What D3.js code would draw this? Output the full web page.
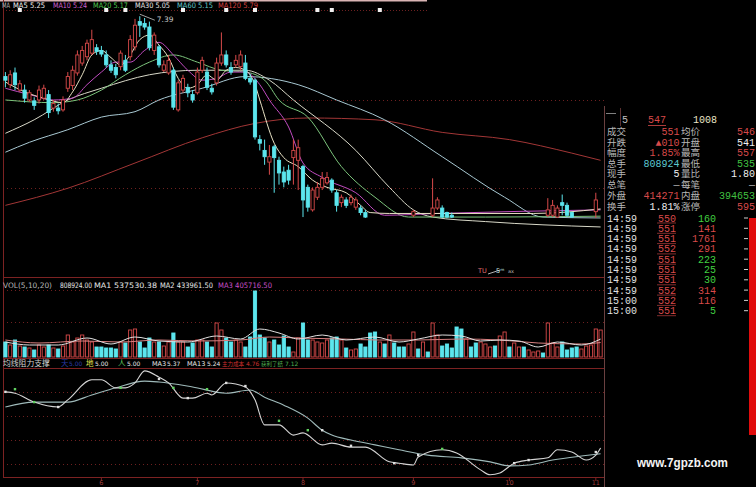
<!DOCTYPE html>
<html><head><meta charset="utf-8">
<script src="https://cdn.jsdelivr.net/npm/d3@7"></script>
<style>html,body{margin:0;padding:0;background:#000;overflow:hidden}svg{display:block}</style>
</head><body>
<svg id="c" width="756" height="487"></svg>
<script>
// ---------------- DATA ----------------
const N_BARS = 125;
// [barIndex, open, high, low, close]  (hidden bars are simply absent)
const candles = [
[0,6.72,6.77,6.60,6.68],[1,6.63,6.79,6.59,6.74],[2,6.76,6.82,6.57,6.63],[3,6.57,6.68,6.55,6.64],[4,6.57,6.63,6.43,6.48],
[5,6.46,6.57,6.44,6.54],[6,6.45,6.49,6.35,6.40],[7,6.46,6.62,6.42,6.57],[8,6.48,6.63,6.46,6.59],[9,6.52,6.57,6.26,6.32],
[10,6.37,6.46,6.33,6.42],[11,6.37,6.42,6.30,6.34],[12,6.35,6.50,6.33,6.46],[13,6.59,6.77,6.55,6.72],[14,6.62,6.84,6.57,6.79],
[15,6.76,7.01,6.73,6.96],[16,6.87,7.06,6.84,7.01],[17,6.94,7.13,6.90,7.09],[18,6.98,7.24,6.96,7.13],[19,7.04,7.08,6.96,7.00],
[20,7.01,7.06,6.94,6.97],[21,6.96,7.01,6.82,6.85],[22,6.85,6.90,6.76,6.79],[23,6.82,6.86,6.70,6.74],[24,6.83,7.01,6.79,6.98],
[25,6.90,6.96,6.77,6.79],[26,6.94,7.18,6.90,7.13],[27,7.05,7.36,7.01,7.29],[28,7.33,7.39,7.16,7.29],[29,7.31,7.37,7.24,7.27],
[30,7.27,7.33,7.01,7.04],[31,7.01,7.21,6.96,7.18],[32,7.05,7.07,6.82,6.85],[33,6.79,6.90,6.77,6.85],[34,6.76,6.96,6.74,6.90],
[35,6.79,6.82,6.35,6.38],[36,6.35,6.68,6.33,6.65],[37,6.57,6.74,6.54,6.70],[38,6.60,6.64,6.49,6.54],[39,6.52,6.57,6.43,6.46],
[40,6.54,6.82,6.52,6.77],[41,6.79,6.94,6.76,6.90],[42,6.77,6.82,6.57,6.60],[43,6.59,6.64,6.52,6.55],[44,6.65,6.93,6.62,6.87],
[45,6.87,7.21,6.84,6.96],[46,6.96,7.01,6.82,6.85],[47,6.82,6.88,6.74,6.77],[48,6.85,6.96,6.82,6.90],[49,6.83,7.01,6.79,6.96],
[50,6.87,6.96,6.68,6.70],[51,6.70,6.75,6.63,6.66],[52,6.68,6.70,6.02,6.05],[53,6.02,6.07,5.90,5.98],[54,5.90,6.02,5.74,5.83],
[55,5.77,5.96,5.63,5.83],[56,5.94,5.96,5.43,5.82],[57,5.79,5.83,5.52,5.65],[58,5.66,5.72,5.49,5.55],[59,5.68,5.74,5.52,5.57],
[60,5.82,6.02,5.52,5.90],[61,5.79,6.02,5.46,5.93],[62,5.72,5.74,5.16,5.35],[63,5.49,5.52,5.22,5.27],[64,5.24,5.49,5.22,5.46],
[65,5.38,5.55,5.35,5.49],[66,5.49,5.66,5.46,5.59],[67,5.54,5.66,5.52,5.60],[68,5.57,5.59,5.43,5.46],[69,5.43,5.46,5.22,5.29],
[70,5.32,5.41,5.27,5.38],[71,5.35,5.38,5.26,5.29],[72,5.32,5.41,5.29,5.38],[73,5.27,5.38,5.24,5.35],[74,5.26,5.29,5.18,5.21],
[75,5.21,5.24,5.15,5.16],
[85,5.18,5.24,5.16,5.22],
[89,5.18,5.59,5.16,5.26],[90,5.26,5.38,5.24,5.35],[91,5.26,5.29,5.15,5.16],[92,5.21,5.22,5.15,5.16],[93,5.18,5.21,5.15,5.16],
[113,5.18,5.37,5.16,5.24],[114,5.18,5.35,5.16,5.29],[115,5.16,5.29,5.15,5.26],[116,5.32,5.41,5.18,5.29],[117,5.29,5.32,5.16,5.18],
[118,5.21,5.22,5.15,5.16],
[123,5.22,5.43,5.15,5.35]
];

// moving averages of price: [barIndex, value]
const ma5 = [[0,6.66],[4,6.55],[8,6.48],[12,6.43],[14,6.55],[16,6.74],[18,6.96],[20,7.01],[22,6.93],[24,6.85],[26,6.96],[28,7.13],[30,7.18],[32,7.07],[34,6.93],[36,6.70],[38,6.59],[40,6.63],[42,6.74],[44,6.68],[46,6.79],[48,6.82],[50,6.79],[52,6.63],[53,6.46],[56,5.98],[58,5.82],[61,5.72],[64,5.57],[67,5.49],[71,5.43],[74,5.29],[76,5.21],[80,5.20],[110,5.20],[124,5.25]];
const ma10 = [[0,6.59],[5,6.52],[10,6.46],[14,6.48],[17,6.63],[20,6.77],[23,6.88],[26,6.88],[29,7.01],[32,7.10],[35,6.96],[38,6.79],[41,6.68],[44,6.70],[47,6.77],[50,6.77],[53,6.63],[55,6.46],[59,6.16],[62,5.76],[66,5.60],[73,5.43],[79,5.18],[90,5.20],[124,5.24]];
const ma20 = [[0,6.46],[10,6.43],[15,6.46],[20,6.57],[25,6.74],[30,6.88],[35,6.96],[40,6.88],[45,6.79],[50,6.77],[54,6.68],[57,6.46],[63,6.27],[70,5.72],[77,5.38],[84,5.16],[100,5.16],[124,5.17]];
const ma30 = [[0,6.09],[6,6.24],[13,6.46],[20,6.59],[30,6.74],[40,6.79],[50,6.79],[55,6.68],[60,6.46],[73,5.90],[80,5.49],[85,5.24],[89,5.16],[100,5.11],[124,5.05]];
const ma60 = [[0,5.88],[5,5.99],[13,6.13],[20,6.27],[27,6.33],[32,6.46],[41,6.59],[50,6.72],[61,6.63],[69,6.46],[79,6.24],[91,5.83],[104,5.38],[112,5.16],[124,5.15]];
const ma120 = [[0,5.29],[13,5.48],[27,5.76],[41,6.04],[52,6.20],[63,6.26],[77,6.24],[91,6.10],[105,6.02],[118,5.87],[124,5.79]];

// volume per bar and its direction (u = up/red, d = down/cyan)
const volumes = [
450000,360000,510000,330000,300000,270000,210000,360000,300000,360000,
270000,240000,330000,660000,450000,570000,660000,510000,450000,300000,
300000,270000,270000,240000,450000,420000,810000,840000,450000,270000,
570000,450000,450000,330000,450000,720000,450000,450000,300000,420000,
510000,510000,450000,300000,1020000,810000,570000,450000,510000,450000,
300000,600000,1980000,660000,570000,450000,510000,360000,630000,300000,
150000,570000,1020000,510000,510000,450000,420000,510000,570000,600000,
510000,270000,210000,240000,390000,300000,720000,750000,450000,390000,
660000,420000,300000,300000,390000,750000,240000,450000,150000,1020000,
660000,330000,390000,270000,900000,840000,540000,300000,420000,450000,
390000,300000,330000,630000,750000,300000,420000,300000,300000,210000,
150000,180000,120000,1020000,420000,300000,450000,210000,270000,300000,
240000,330000,360000,840000,808924];
const volDir = ("dudududuud"+"uduuuuuuud"+"dddduduudd"+"duduuduudd"+"uudduudduu"+
                "dddddudddd"+"uudduuuudd"+"uduuddddud"+"uddduududu"+"uddddduddu"+
                "uuduuduudu"+"uuduuudddd"+"uuuuu").split("");
const volMA1 = [[0,450000],[5,360000],[11,360000],[17,570000],[22,390000],[27,600000],[32,480000],[38,450000],[44,630000],[49,540000],[53,840000],[57,720000],[61,540000],[66,660000],[71,510000],[77,600000],[82,450000],[86,540000],[91,660000],[95,630000],[99,480000],[103,510000],[107,480000],[111,300000],[115,450000],[120,360000],[124,537530.38]];
const volMA2 = [[0,510000],[7,420000],[16,480000],[24,450000],[32,510000],[40,480000],[49,510000],[55,600000],[61,570000],[70,540000],[78,510000],[86,510000],[95,540000],[103,510000],[111,420000],[120,390000],[124,433961.50]];
const volMA3Last = 405716.50;

// indicator (均线阻力支撑): MA3 and MA13 lines, signal dots
const indMA3 = [[0,6.63],[2,6.60],[6,6.40],[11,6.29],[13,6.45],[18,6.90],[20,6.90],[23,6.72],[25,6.72],[27,6.83],[29,7.10],[32,6.96],[34,6.83],[37,6.49],[39,6.49],[42,6.60],[43,6.56],[46,6.83],[50,6.74],[52,6.45],[54,5.89],[57,5.89],[60,5.66],[62,5.71],[66,5.44],[68,5.48],[72,5.39],[75,5.39],[80,5.06],[82,5.03],[85,4.99],[86,5.17],[91,5.33],[94,5.26],[99,4.88],[101,4.77],[103,4.81],[106,5.03],[109,5.10],[113,5.15],[115,5.33],[118,5.28],[121,5.10],[123,5.21],[124,5.37]];
const indMA13 = [[0,6.29],[6,6.40],[13,6.40],[18,6.56],[23,6.72],[29,6.87],[32,6.85],[39,6.74],[46,6.60],[51,6.67],[54,6.51],[58,6.33],[63,6.04],[66,5.77],[68,5.66],[72,5.55],[77,5.44],[82,5.33],[88,5.21],[95,5.15],[101,5.06],[105,4.97],[109,4.99],[114,5.10],[120,5.19],[124,5.24]];
const dotsGreen = [[2,6.69],[6,6.40],[24,6.72],[35,6.72],[42,6.69],[57,5.98],[63,5.77],[91,5.35]];
const dotsWhite = [[0,6.63],[11,6.29],[32,6.92],[38,6.49],[46,6.83],[50,6.76],[66,5.77],[72,5.42],[81,5.03],[86,5.21],[106,5.03],[109,5.10],[123,5.28]];
const indLabels = ["均线阻力支撑","天","地","人","MA3","MA13","主力成本","获利了结"];
const indValues = ["","5.00","5.00","5.00","5.37","5.24","4.76","7.12"];

const monthTicks = [[20,"6"],[40,"7"],[62,"8"],[85,"9"],[105,"10"],[123,"11"]];
const infoMarks = [3,21,25,37,46,52,65,68,78];

// quote panel
const quoteTop = ["5","547","1008"];
const quoteRows = [
 ["成交","551","均价","546"],["升跌","▲010","开盘","541"],["幅度","1.85%","最高","557"],
 ["总手","808924","最低","535"],["现手","5","量比","1.80"],["总笔","—","每笔","—"],
 ["外盘","414271","内盘","394653"],["换手","1.81%","涨停","595"]];
const tickTimes = ["14:59","14:59","14:59","14:59","14:59","14:59","14:59","14:59","15:00","15:00"];
const tickPrices = ["550","551","551","552","551","551","551","552","552","551"];
const tickVols = [160,141,1761,291,223,25,30,314,116,5];
const tickSide = ["s","b","b","b","s","s","s","b","b","s"];

// ---------------- LAYOUT / STYLE ----------------
const RED = "#d84a4a", CYAN = "#5ce6ee", FRAME = "#7c2222", GRID = "#6e2020";
const svg = d3.select("#c");
svg.append("rect").attr("width",756).attr("height",487).attr("fill","#000");

const x = d3.scaleBand().domain(d3.range(N_BARS)).range([3,603]);
const cx = i => x(i) + x.bandwidth()/2;
const yP = d3.scaleLinear().domain([4.55,7.57]).range([272,0]);
const yV = d3.scaleLinear().domain([0,2010000]).range([357,290]);
const yI = d3.scaleLinear().domain([4.72,7.12]).range([477,370]);

// ---- frame & grid
const hline = (y,x1,x2,col,dash,w) => svg.append("line").attr("x1",x1).attr("x2",x2).attr("y1",y).attr("y2",y)
  .attr("stroke",col).attr("stroke-width",w||1).attr("stroke-dasharray",dash||null);
svg.append("line").attr("x1",0).attr("x2",427).attr("y1",0.8).attr("y2",0.8).attr("stroke","#d8b4b4").attr("stroke-width",1.6);
hline(10.5,3,427,GRID,"1,2");
hline(100.5,3,604,GRID,"1,3");
hline(188.5,3,604,GRID,"1,3");
hline(277.5,3,604,FRAME);
hline(290.5,3,604,GRID,"1,3");
hline(322.5,3,604,GRID,"1,3");
hline(358.5,3,604,FRAME);
hline(368.5,3,604,FRAME);
[392.5,416.5,440.5,464.5].forEach(y=>hline(y,3,604,GRID,"1,3"));
hline(477.5,3,604,FRAME);
svg.append("line").attr("x1",3.5).attr("x2",3.5).attr("y1",0).attr("y2",478).attr("stroke",FRAME);
svg.append("line").attr("x1",604.5).attr("x2",604.5).attr("y1",106).attr("y2",487).attr("stroke","#6a4040");
svg.append("line").attr("x1",620.5).attr("x2",620.5).attr("y1",108).attr("y2",126).attr("stroke","#5a3030");

// ---- info marks
svg.append("g").selectAll("rect").data(infoMarks).join("rect")
  .attr("x",d=>cx(d)-2).attr("y",8).attr("width",4).attr("height",4).attr("fill","#f0f0f0");

// ---- MA legend
const fontSm = "'DejaVu Sans', sans-serif";
const maSets = [["MA5",ma5,"#f0f0f0"],["MA10",ma10,"#d060d0"],["MA20",ma20,"#50c850"],["MA30",ma30,"#e8e8e8"],["MA60",ma60,"#60c8c8"],["MA120",ma120,"#d84040"]];
const maLegendX = [13,53,93,135,177,218], maLegendW = [32,34,35,35,36,40];
svg.append("text").attr("x",2).attr("y",8).attr("font-family",fontSm).attr("font-size",7.5).attr("fill","#b8b8b8")
  .attr("textLength",8).attr("lengthAdjust","spacingAndGlyphs").text("MA");
maSets.forEach((m,k)=>{
  svg.append("text").attr("x",maLegendX[k]).attr("y",8).attr("font-family",fontSm).attr("font-size",7.5)
   .attr("fill",m[2]).attr("textLength",maLegendW[k]).attr("lengthAdjust","spacingAndGlyphs")
   .text(m[0]+" "+m[1][m[1].length-1][1].toFixed(2));
});

// ---- MA lines
const maColors = ["#e8e2c4","#c24cc2","#7cc47c","#d8d8c8","#a8c8d2","#a23636"];
const lineP = d3.line().x(d=>cx(d[0])).y(d=>yP(d[1])).curve(d3.curveMonotoneX);
[ma120,ma60,ma30,ma20,ma10,ma5].forEach((m,k)=>{
  svg.append("path").attr("d",lineP(m)).attr("fill","none").attr("stroke",maColors[5-k]).attr("stroke-width",1);
});

// ---- candles
const gC = svg.append("g");
const isUp = d => d[4] >= d[1];
gC.selectAll("line.w1").data(candles).join("line")
  .attr("x1",d=>cx(d[0])).attr("x2",d=>cx(d[0]))
  .attr("y1",d=>yP(d[2])).attr("y2",d=>yP(Math.max(d[1],d[4])))
  .attr("stroke",d=>isUp(d)?RED:CYAN);
gC.selectAll("line.w2").data(candles).join("line")
  .attr("x1",d=>cx(d[0])).attr("x2",d=>cx(d[0]))
  .attr("y1",d=>yP(Math.min(d[1],d[4]))).attr("y2",d=>yP(d[3]))
  .attr("stroke",d=>isUp(d)?RED:CYAN);
gC.selectAll("rect").data(candles).join("rect")
  .attr("x",d=>cx(d[0])-1.6).attr("width",3.2)
  .attr("y",d=>yP(Math.max(d[1],d[4])))
  .attr("height",d=>Math.max(1,yP(Math.min(d[1],d[4]))-yP(Math.max(d[1],d[4]))))
  .attr("fill",d=>isUp(d)?"#000":CYAN).attr("stroke",d=>isUp(d)?RED:CYAN).attr("stroke-width",0.9);

// high label
const hi = candles.reduce((a,b)=>b[2]>a[2]?b:a);
svg.append("line").attr("x1",cx(hi[0])).attr("y1",yP(hi[2])-2).attr("x2",cx(hi[0])+15).attr("y2",yP(hi[2])+4).attr("stroke","#c8c8c8").attr("stroke-width",0.8);
svg.append("text").attr("x",cx(hi[0])+17).attr("y",yP(hi[2])+6).attr("font-family",fontSm).attr("font-size",7.5).attr("fill","#c8c8c8").text(hi[2].toFixed(2));

// low-price marker (below candles)
svg.append("text").attr("x",478).attr("y",273).attr("font-family",fontSm).attr("font-size",6.5).attr("fill","#e07070").text("TU");
svg.append("line").attr("x1",488).attr("y1",274).attr("x2",500).attr("y2",270).attr("stroke","#e0e0e0").attr("stroke-width",0.8);
svg.append("text").attr("x",496).attr("y",273).attr("font-family",fontSm).attr("font-size",6.5).attr("fill","#c8e8e8").text("5ᵐ");
svg.append("text").attr("x",508).attr("y",273).attr("font-family",fontSm).attr("font-size",5).attr("fill","#b0b0b0").text("ax");

// ---- volume legend
const volLeg = [["VOL(5,10,20)","#b8b8b8",3,49],[volumes[N_BARS-1].toFixed(2),"#e8e8e8",60,32],
  ["MA1 "+volMA1[volMA1.length-1][1].toFixed(2),"#e8e8e8",94,63],["MA2 "+volMA2[volMA2.length-1][1].toFixed(2),"#e8e8e8",160,53],
  ["MA3 "+volMA3Last.toFixed(2),"#c850c8",218,54]];
volLeg.forEach(v=>svg.append("text").attr("x",v[2]).attr("y",288).attr("font-family",fontSm).attr("font-size",7.5)
  .attr("fill",v[1]).attr("textLength",v[3]).attr("lengthAdjust","spacingAndGlyphs").text(v[0]));

// ---- volume bars
const gV = svg.append("g");
gV.selectAll("rect").data(volumes).join("rect")
  .attr("x",(d,i)=>cx(i)-1.6).attr("width",3.2)
  .attr("y",d=>yV(d)).attr("height",d=>yV(0)-yV(d))
  .attr("fill",(d,i)=>volDir[i]==="u"?"#000":CYAN)
  .attr("stroke",(d,i)=>volDir[i]==="u"?RED:CYAN).attr("stroke-width",0.9);
const lineV = d3.line().x(d=>cx(d[0])).y(d=>yV(d[1])).curve(d3.curveMonotoneX);
svg.append("path").attr("d",lineV(volMA2)).attr("fill","none").attr("stroke","#d88080").attr("stroke-width",1);
svg.append("path").attr("d",lineV(volMA1)).attr("fill","none").attr("stroke","#e0e0e0").attr("stroke-width",1);

// ---- indicator legend (label and value placed separately)
const fontCJK = "'Noto Sans CJK SC', sans-serif";
const indLabelCol = ["#d0d0d0","#2a3aa8","#e0e050","#60d060","#e8e8e8","#e8e8e8","#d03030","#50b050"];
const indValueCol = ["","#2a3aa8","#e8e8e8","#e8e8e8","#e8e8e8","#e8e8e8","#d03030","#50b050"];
const indLabelX = [3,61,86,118,152,187,222,261], indLabelFS = [7.8,7.5,7.5,7.5,6.5,6.5,5.5,5.5];
const indValueX = [0,69,95,127,167,207,246,285];
indLabels.forEach((l,k)=>{
  const cjk = /[\u4e00-\u9fff]/.test(l);
  svg.append("text").attr("x",indLabelX[k]).attr("y",366).attr("font-family",cjk?fontCJK:fontSm).attr("font-size",indLabelFS[k])
    .attr("fill",indLabelCol[k]).text(l);
  if (indValues[k]) svg.append("text").attr("x",indValueX[k]).attr("y",366).attr("font-family",fontSm).attr("font-size",6)
    .attr("fill",indValueCol[k]).text(indValues[k]);
});

// ---- indicator lines
const lineI = d3.line().x(d=>cx(d[0])).y(d=>yI(d[1])).curve(d3.curveMonotoneX);
svg.append("path").attr("d",lineI(indMA13)).attr("fill","none").attr("stroke","#9fbaba").attr("stroke-width",1.1);
svg.append("path").attr("d",lineI(indMA3)).attr("fill","none").attr("stroke","#d4d4d4").attr("stroke-width",1.1);
svg.append("g").selectAll("rect").data(dotsGreen).join("rect").attr("x",d=>cx(d[0])-1.2).attr("y",d=>yI(d[1])-1.2)
  .attr("width",2.4).attr("height",2.4).attr("fill","#60d060");
svg.append("g").selectAll("rect").data(dotsWhite).join("rect").attr("x",d=>cx(d[0])-1.2).attr("y",d=>yI(d[1])-1.2)
  .attr("width",2.4).attr("height",2.4).attr("fill","#e0e0e0");

// ---- x axis months
monthTicks.forEach(([i,l])=>{
  svg.append("line").attr("x1",cx(i)).attr("x2",cx(i)).attr("y1",478).attr("y2",481).attr("stroke",FRAME);
  svg.append("text").attr("x",cx(i)).attr("y",484.5).attr("text-anchor","middle").attr("font-family",fontSm)
   .attr("font-size",6.5).attr("fill","#9a3a3a").text(l);
});

// ---- quote panel
const fontNum = "'Liberation Mono', monospace";
const LBL = "#b8b8b8";
const qTopY = 123;
svg.append("line").attr("x1",606).attr("x2",616).attr("y1",113.5).attr("y2",113.5).attr("stroke","#808080");
svg.append("text").attr("x",628).attr("y",qTopY).attr("text-anchor","end").attr("font-family",fontNum).attr("font-size",10).attr("fill","#c0c0c0").text(quoteTop[0]);
svg.append("text").attr("x",648).attr("y",qTopY).attr("font-family",fontNum).attr("font-size",10).attr("fill",RED).text(quoteTop[1]);
svg.append("text").attr("x",693).attr("y",qTopY).attr("font-family",fontNum).attr("font-size",10).attr("fill","#ece6c8").text(quoteTop[2]);
svg.append("line").attr("x1",648).attr("x2",666).attr("y1",125.5).attr("y2",125.5).attr("stroke",RED).attr("stroke-width",0.8);
const qCol = [[RED,RED],[RED,"#f0f0f0"],[RED,RED],["#5cc8d0","#40c040"],["#f0f0f0","#f0f0f0"],["#b0b0b0","#b0b0b0"],[RED,"#40c040"],["#f0f0f0",RED]];
const rowY = [135,145.5,156,166.5,177,187.5,198.5,209.5];
quoteRows.forEach((r,k)=>{
  const y = rowY[k];
  svg.append("text").attr("x",607).attr("y",y).attr("font-family",fontCJK).attr("font-size",9.5).attr("fill",LBL).text(r[0]);
  svg.append("text").attr("x",679.5).attr("y",y).attr("text-anchor","end").attr("font-family",fontNum).attr("font-size",10).attr("fill",qCol[k][0]).text(r[1]);
  svg.append("text").attr("x",681).attr("y",y).attr("font-family",fontCJK).attr("font-size",9.5).attr("fill",LBL).text(r[2]);
  svg.append("text").attr("x",755).attr("y",y).attr("text-anchor","end").attr("font-family",fontNum).attr("font-size",10).attr("fill",qCol[k][1]).text(r[3]);
});

// red side bar
svg.append("rect").attr("x",749).attr("y",218).attr("width",7).attr("height",217).attr("fill","#e00c0c");

const tickY = d3.range(tickTimes.length).map(k=>221.5+k*10.3);
tickTimes.forEach((t,k)=>{
  const y = tickY[k];
  svg.append("text").attr("x",607).attr("y",y).attr("font-family",fontNum).attr("font-size",10).attr("fill","#e0e0e0").text(t);
  svg.append("text").attr("x",676).attr("y",y).attr("text-anchor","end").attr("font-family",fontNum).attr("font-size",10).attr("fill",RED).text(tickPrices[k]);
  svg.append("line").attr("x1",657).attr("x2",676).attr("y1",y+1.5).attr("y2",y+1.5).attr("stroke",RED).attr("stroke-width",0.6);
  svg.append("text").attr("x",716).attr("y",y).attr("text-anchor","end").attr("font-family",fontNum).attr("font-size",10)
    .attr("fill",tickSide[k]==="b"?RED:"#40d040").text(tickVols[k]);
  svg.append("line").attr("x1",744).attr("x2",748).attr("y1",y-3.5).attr("y2",y-3.5).attr("stroke","#d0d0d0");
});

// watermark
svg.append("text").attr("x",637).attr("y",467).attr("font-family","'Liberation Sans', Arial, sans-serif").attr("font-weight","bold")
  .attr("font-size",12.5).attr("fill","#f4f4f4").attr("textLength",91).attr("lengthAdjust","spacingAndGlyphs").text("www.7gpzb.com");
</script>
</body></html>
